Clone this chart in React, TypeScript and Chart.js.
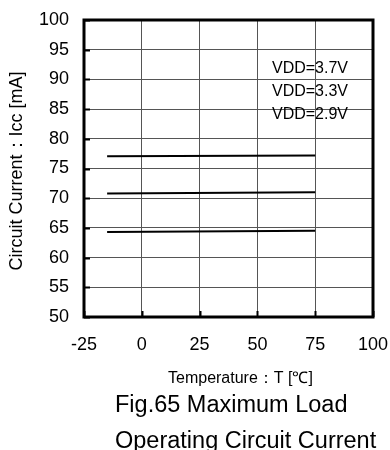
import React, { useEffect, useRef } from "react";
import { Chart, registerables } from "chart.js";

Chart.register(...registerables);

const temps = [-15, 75];
const vdd37 = [77.05, 77.2];
const vdd33 = [70.8, 71.0];
const vdd29 = [64.3, 64.5];
const seriesLabels = ["VDD=3.7V", "VDD=3.3V", "VDD=2.9V"];
const xTitle = "Temperature：T [℃]";
const yTitle = "Circuit Current：Icc [mA]";
const caption = ["Fig.65 Maximum Load", "Operating Circuit Current"];

const FONT = "'Liberation Sans', Arial, sans-serif";

const decorPlugin = {
  id: "decor",
  afterDraw(chart: any) {
    const { ctx, chartArea } = chart;
    const xs = chart.scales.x;
    const ys = chart.scales.y;
    ctx.save();
    // inward tick marks
    ctx.strokeStyle = "#000";
    ctx.lineWidth = 2;
    ys.ticks.forEach((t: any) => {
      const py = Math.round(ys.getPixelForValue(t.value)) + 0.5;
      ctx.beginPath();
      ctx.moveTo(chartArea.left, py);
      ctx.lineTo(chartArea.left + 6, py);
      ctx.stroke();
    });
    xs.ticks.forEach((t: any) => {
      const px = Math.round(xs.getPixelForValue(t.value)) + 0.5;
      ctx.beginPath();
      ctx.moveTo(px, chartArea.bottom);
      ctx.lineTo(px, chartArea.bottom - 6);
      ctx.stroke();
    });
    // frame
    ctx.lineWidth = 3;
    ctx.strokeRect(chartArea.left, chartArea.top, chartArea.right - chartArea.left, chartArea.bottom - chartArea.top);

    // series labels
    ctx.fillStyle = "#000";
    ctx.font = `16px ${FONT}`;
    ctx.textAlign = "left";
    ctx.textBaseline = "alphabetic";
    const lx = xs.getPixelForValue(56.3);
    const baseY = [91.1, 87.15, 83.25];
    seriesLabels.forEach((s, i) => {
      ctx.fillText(s, lx, ys.getPixelForValue(baseY[i]));
    });

    // x title
    ctx.font = `16px ${FONT}`;
    ctx.fillText(xTitle, 168, 383);

    // captions
    ctx.font = `23.5px ${FONT}`;
    ctx.fillText(caption[0], 115, 412);
    ctx.fillText(caption[1], 115, 448);

    // y title
    ctx.save();
    ctx.translate(22, 171);
    ctx.rotate(-Math.PI / 2);
    ctx.textAlign = "center";
    ctx.font = `18px ${FONT}`;
    ctx.fillText(yTitle, 0, 0);
    ctx.restore();

    ctx.restore();
  },
};

export default function App() {
  const ref = useRef<HTMLCanvasElement>(null);
  useEffect(() => {
    if (!ref.current) return;
    const mk = (vals: number[], label: string) => ({
      label,
      data: temps.map((t, i) => ({ x: t, y: vals[i] })),
      borderColor: "#000",
      backgroundColor: "#000",
      borderWidth: 2,
      pointRadius: 0,
      tension: 0,
    });
    const chart = new Chart(ref.current, {
      type: "line",
      data: {
        datasets: [mk(vdd37, seriesLabels[0]), mk(vdd33, seriesLabels[1]), mk(vdd29, seriesLabels[2])],
      },
      options: {
        animation: false,
        responsive: false,
        devicePixelRatio: 1,
        layout: { padding: { top: 20, right: 17, left: 0, bottom: 0 } },
        plugins: { legend: { display: false }, tooltip: { enabled: false }, title: { display: false } },
        scales: {
          x: {
            type: "linear",
            min: -25,
            max: 100,
            ticks: { stepSize: 25, color: "#000", font: { family: FONT, size: 18 }, padding: 17, maxRotation: 0 },
            grid: { color: "#555", lineWidth: 1, drawTicks: false },
            border: { display: false },
            afterFit: (s: any) => {
              s.height = 133;
              s.paddingLeft = 0;
              s.paddingRight = 0;
              s.paddingTop = 0;
              s.paddingBottom = 0;
            },
          },
          y: {
            type: "linear",
            min: 50,
            max: 100,
            ticks: { stepSize: 5, color: "#000", font: { family: FONT, size: 18 }, padding: 15 },
            grid: { color: "#555", lineWidth: 1, drawTicks: false },
            border: { display: false },
            afterFit: (s: any) => {
              s.width = 84;
              s.paddingLeft = 0;
              s.paddingRight = 0;
              s.paddingTop = 0;
              s.paddingBottom = 0;
            },
          },
        },
      },
      plugins: [decorPlugin],
    } as any);
    return () => chart.destroy();
  }, []);
  return (
    <div style={{ position: "absolute", left: 0, top: 0, width: 390, height: 450, background: "#fff" }}>
      <canvas ref={ref} width={390} height={450} />
    </div>
  );
}
